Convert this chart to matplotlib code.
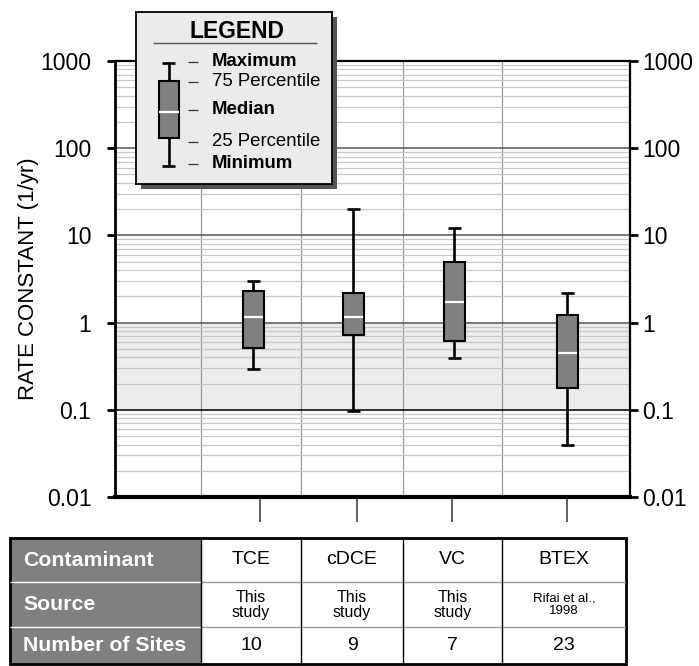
"""Box plot of first-order rate constants (log scale) with a data table below."""

import matplotlib

matplotlib.use("Agg")

import matplotlib.pyplot as plt
from matplotlib.patches import Rectangle
from matplotlib.ticker import FixedLocator, NullFormatter, LogLocator

plt.rcParams["font.family"] = ["Liberation Sans", "DejaVu Sans"]

# ---- data ----
contaminants = ["TCE", "cDCE", "VC", "BTEX"]
sources = ["This\nstudy", "This\nstudy", "This\nstudy", "Rifai et al.,\n1998"]
n_sites = ["10", "9", "7", "23"]

minimum = [0.29, 0.097, 0.39, 0.039]
q1 = [0.51, 0.73, 0.62, 0.176]
median = [1.17, 1.17, 1.74, 0.45]
q3 = [2.33, 2.17, 5.0, 1.23]
maximum = [3.0, 20.0, 12.0, 2.2]

y_ticks = [0.01, 0.1, 1, 10, 100, 1000]
y_tick_labels = ["0.01", "0.1", "1", "10", "100", "1000"]

# ---- layout (pixel-based, figure is 699 x 666 at 100 dpi) ----
W, H = 699, 666
AX_L, AX_R, AX_T, AX_B = 115, 630, 61, 497
BOX_X = [253, 353, 454, 567]          # box centres (px)
TICK_X = [260, 357, 452, 567]         # hanging ticks below the axis (px)
GRID_X = [201, 301, 403, 502]         # vertical grid lines (px)
BOX_W = 21
CAP_W = 13
BOX_FACE = "#808080"
SHADE = "#ececec"
MINOR_GRID = "#c8c8c8"


def fig_rect(x0, y0, x1, y1):
    return [x0 / W, 1 - y1 / H, (x1 - x0) / W, (y1 - y0) / H]


def draw_box(ax, x, lo, a, m, b, hi, lw_box=1.5, lw_wh=1.9):
    ax.vlines(x, lo, a, color="black", lw=lw_wh, zorder=4)
    ax.vlines(x, b, hi, color="black", lw=lw_wh, zorder=4)
    ax.hlines([lo, hi], x - CAP_W / 2, x + CAP_W / 2, color="black", lw=lw_wh, zorder=4)
    ax.add_patch(Rectangle((x - BOX_W / 2, a), BOX_W, b - a, facecolor=BOX_FACE,
                           edgecolor="black", lw=lw_box, zorder=5))
    ax.hlines(m, x - BOX_W / 2 + 1, x + BOX_W / 2 - 1, color="white", lw=1.6, zorder=6)


def set_log_axis(a):
    a.set_yscale("log")
    a.set_ylim(0.01, 1000)
    a.yaxis.set_major_locator(FixedLocator(y_ticks))
    a.set_yticklabels(y_tick_labels)
    a.yaxis.set_minor_locator(LogLocator(base=10, subs=range(2, 10)))
    a.yaxis.set_minor_formatter(NullFormatter())
    a.tick_params(axis="y", which="minor", length=0)


fig = plt.figure(figsize=(W / 100, H / 100), dpi=100)

# ---- main axes ----
ax = fig.add_axes(fig_rect(AX_L, AX_T, AX_R, AX_B))
set_log_axis(ax)
ax.set_xlim(AX_L, AX_R)

ax.axhspan(0.1, 1, color=SHADE, zorder=0)
ax.grid(which="minor", axis="y", color=MINOR_GRID, lw=0.9, zorder=1)
for gx in GRID_X:
    ax.axvline(gx, color="#9a9a9a", lw=0.9, zorder=1)
for val, col in [(100, "#555555"), (10, "#555555"), (1, "#555555"), (0.1, "black")]:
    ax.axhline(val, color=col, lw=1.1, zorder=2)

for i in range(len(contaminants)):
    draw_box(ax, BOX_X[i], minimum[i], q1[i], median[i], q3[i], maximum[i])

ax.tick_params(axis="y", which="major", direction="out", length=6, width=2,
               labelsize=16.5, left=True, right=False, pad=11)
ax.set_xticks(TICK_X)
ax.tick_params(axis="x", direction="out", length=18, width=1.3, color="#555555",
               labelbottom=False)
ax.spines["bottom"].set_linewidth(3)
ax.spines["left"].set_linewidth(2)
ax.spines["right"].set_linewidth(1.6)
ax.spines["top"].set_linewidth(1.6)
ax.set_ylabel("RATE CONSTANT (1/yr)", fontsize=16, labelpad=1)

# right-hand labels with their own padding
ax2 = ax.twinx()
set_log_axis(ax2)
for s in ax2.spines.values():
    s.set_visible(False)
ax2.tick_params(axis="y", which="major", direction="out", length=6, width=2,
                labelsize=16.5, pad=3)

# ---- legend panel ----
LG = (136, 12, 332, 184)
shadow = Rectangle(((LG[0] + 5) / W, 1 - (LG[3] + 5) / H), (LG[2] - LG[0]) / W,
                   (LG[3] - LG[1]) / H, transform=fig.transFigure,
                   facecolor="#555555", edgecolor="none", zorder=2)
fig.add_artist(shadow)
lax = fig.add_axes(fig_rect(*LG))
lax.set_zorder(3)
lax.set_xlim(LG[0], LG[2])
lax.set_ylim(LG[3], LG[1])
lax.set_facecolor("#ebebeb")
lax.set_xticks([])
lax.set_yticks([])
for s in lax.spines.values():
    s.set_linewidth(1.3)
lax.text(237, 31, "LEGEND", ha="center", va="center", fontsize=16.5, fontweight="bold")
lax.hlines(43, 153, 317, color="#555555", lw=1.0)
# sample box
lax.vlines(169, 63, 81, color="black", lw=1.9)
lax.vlines(169, 138, 166, color="black", lw=1.9)
lax.hlines([63, 166], 169 - CAP_W / 2, 169 + CAP_W / 2, color="black", lw=1.9)
lax.add_patch(Rectangle((159, 81), 20, 57, facecolor=BOX_FACE, edgecolor="black", lw=1.5))
lax.hlines(112, 159, 179, color="white", lw=1.6)
leg_items = [(62, "Maximum", "bold"), (82, "75 Percentile", "normal"),
             (110, "Median", "bold"), (142, "25 Percentile", "normal"),
             (164, "Minimum", "bold")]
for yy, txt, wt in leg_items:
    lax.hlines(yy, 188, 198, color="#333333", lw=0.9)
    lax.text(212, yy, txt, ha="left", va="center", fontsize=13.4, fontweight=wt)

# ---- table ----
TB = (10, 538, 626, 664)
tax = fig.add_axes(fig_rect(*TB))
tax.set_xlim(TB[0], TB[2])
tax.set_ylim(TB[3], TB[1])
tax.axis("off")
col_edges = [10, 201, 301, 403, 502, 626]
row_edges = [538, 582, 627, 664]
row_names = ["Contaminant", "Source", "Number of Sites"]
rows = [contaminants, sources, n_sites]
row_fs = [14, 11.5, 14]
tax.add_patch(Rectangle((col_edges[0], row_edges[0]), col_edges[1] - col_edges[0],
                        row_edges[-1] - row_edges[0], facecolor=BOX_FACE, edgecolor="none"))
for r in range(3):
    yc = (row_edges[r] + row_edges[r + 1]) / 2
    tax.text(23, yc, row_names[r], ha="left", va="center", color="white",
             fontsize=15.3, fontweight="bold")
    for c in range(4):
        xc = (col_edges[c + 1] + col_edges[c + 2]) / 2
        fs = row_fs[r]
        if r == 1 and c == 3:
            fs = 9.5
        tax.text(xc, yc, rows[r][c], ha="center", va="center", fontsize=fs,
                 linespacing=1.0)
for ry in row_edges[1:-1]:
    tax.hlines(ry, col_edges[0], col_edges[1], color="white", lw=1.0)
    tax.hlines(ry, col_edges[1], col_edges[-1], color="#999999", lw=1.0)
for cx in col_edges[1:-1]:
    tax.vlines(cx, row_edges[0], row_edges[-1], color="black", lw=1.0)
tax.add_patch(Rectangle((col_edges[0], row_edges[0]), col_edges[-1] - col_edges[0],
                        row_edges[-1] - row_edges[0], facecolor="none",
                        edgecolor="black", lw=2.0, clip_on=False))

fig.savefig("out.png", dpi=100)
